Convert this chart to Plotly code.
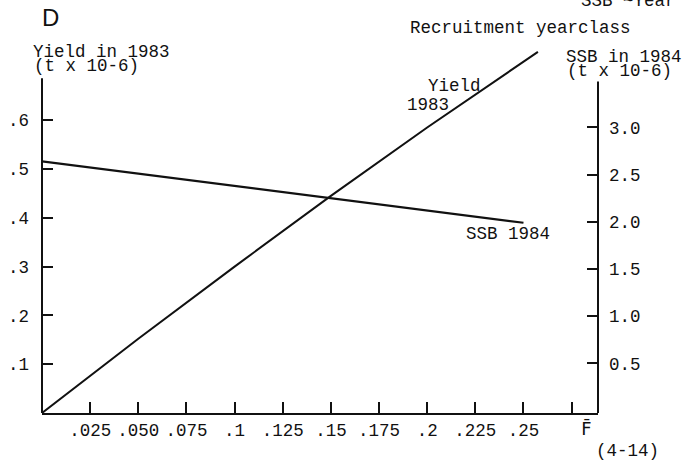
import plotly.graph_objects as go

# Fishing mortality (mean F, ages 4-14)
f_yield = [0, 0.05, 0.1, 0.15, 0.2, 0.2575]
yield_1983 = [0, 0.152, 0.300, 0.445, 0.585, 0.740]   # t x 10^6

f_ssb = [0, 0.05, 0.1, 0.15, 0.2, 0.25]
ssb_1984 = [2.64, 2.51, 2.38, 2.25, 2.12, 1.99]        # t x 10^6

x_tickvals = [0.025, 0.05, 0.075, 0.1, 0.125, 0.15, 0.175, 0.2, 0.225, 0.25, 0.275]
x_ticktext = [".025", ".050", ".075", ".1", ".125", ".15", ".175", ".2", ".225", ".25", ""]
y_tickvals = [0.1, 0.2, 0.3, 0.4, 0.5, 0.6]
y_ticktext = [".1", ".2", ".3", ".4", ".5", ".6"]
y2_tickvals = [0.5, 1.0, 1.5, 2.0, 2.5, 3.0]
y2_ticktext = ["0.5", "1.0", "1.5", "2.0", "2.5", "3.0"]

MONO = "Liberation Mono, DejaVu Sans Mono, monospace"
FS = 17.5
INK = "#111111"

W, H = 689, 461
L, R, T, B = 42, 91, 48, 48
PW, PH = W - L - R, H - T - B


def px(x, y):
    """Pixel position -> paper coordinates."""
    return (x - L) / PW, (H - B - y) / PH


fig = go.Figure()
fig.add_trace(go.Scatter(x=f_yield, y=yield_1983, mode="lines",
                         line=dict(color=INK, width=2), yaxis="y",
                         showlegend=False, hoverinfo="skip"))
fig.add_trace(go.Scatter(x=f_ssb, y=ssb_1984, mode="lines",
                         line=dict(color=INK, width=2.2), yaxis="y2",
                         showlegend=False, hoverinfo="skip"))

tick_common = dict(ticks="inside", ticklen=11, tickwidth=1.5, tickcolor=INK,
                   showgrid=False, zeroline=False, automargin=False,
                   tickfont=dict(family=MONO, size=FS, color=INK))

fig.update_layout(
    width=W, height=H,
    margin=dict(l=L, r=R, t=T, b=B, pad=0, autoexpand=False),
    paper_bgcolor="white", plot_bgcolor="white",
    xaxis=dict(range=[0, 0.2887], tickvals=x_tickvals, ticktext=x_ticktext,
               showline=True, linecolor=INK, linewidth=2,
               ticklabelstandoff=0, **tick_common),
    yaxis=dict(range=[0, 0.748], tickvals=y_tickvals, ticktext=y_ticktext,
               showline=False, ticklabelstandoff=12, **tick_common),
    yaxis2=dict(range=[-0.025, 3.841], tickvals=y2_tickvals, ticktext=y2_ticktext,
                overlaying="y", side="right", showline=False,
                ticklabelstandoff=10, **tick_common),
)

# Vertical axis lines stop below the top of the plotting area
fig.add_shape(type="line", xref="paper", yref="y", x0=0, x1=0, y0=0, y1=0.686,
              line=dict(color=INK, width=2))
fig.add_shape(type="line", xref="paper", yref="y2", x0=1, x1=1, y0=-0.025, y1=3.485,
              line=dict(color=INK, width=2))


def note(text, x, y, xanchor="left", yanchor="middle", size=FS, family=MONO):
    ax, ay = px(x, y)
    fig.add_annotation(text=text, x=ax, y=ay, xref="paper", yref="paper",
                       xanchor=xanchor, yanchor=yanchor, showarrow=False,
                       borderpad=0,
                       font=dict(family=family, size=size, color=INK))


note("D", 50, 17, xanchor="center", size=24, family="Liberation Sans, Arial, sans-serif")
note("SSB ~Year", 580, 12, yanchor="bottom")
note("Recruitment yearclass", 409, 28)
note("Yield in 1983", 32, 52)
note("(t x 10-6)", 33, 66)
note("SSB in 1984", 565, 57)
note("(t x 10-6)", 566, 71)
note("Yield", 482, 86, xanchor="right")
note("1983", 406, 105)
note("SSB 1984", 465, 234)
note("F\u0304", 586, 428, xanchor="center", family="DejaVu Sans Mono, monospace")
note("(4-14)", 595, 451)

fig.write_html("out.html")
